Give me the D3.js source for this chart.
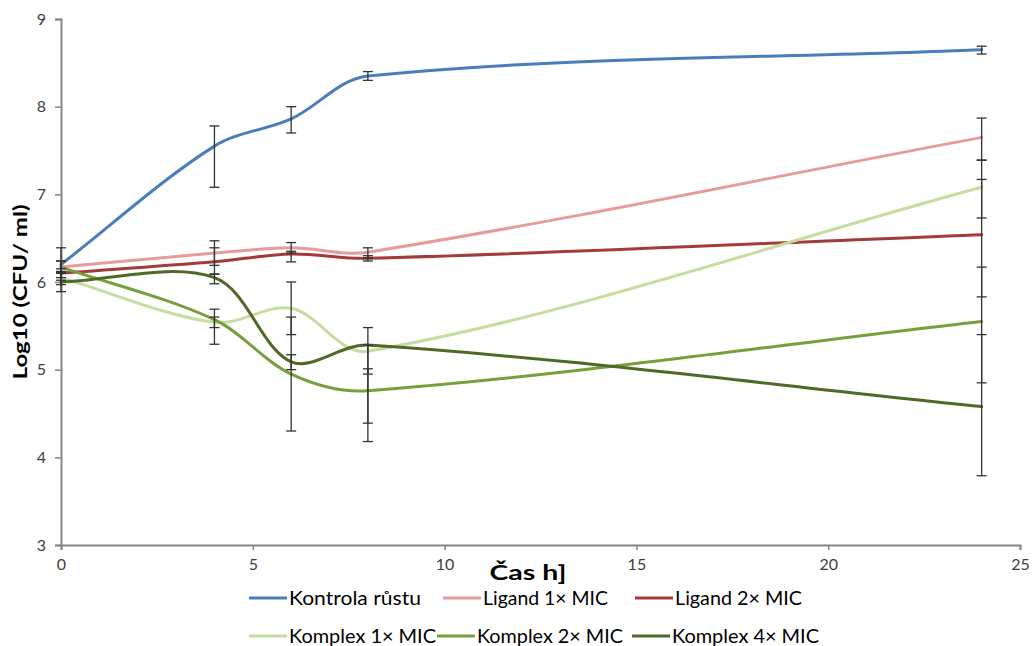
<!DOCTYPE html>
<html><head><meta charset="utf-8">
<script src="https://cdn.jsdelivr.net/npm/d3@7"></script>
<style>
body{margin:0;background:#fff;}
svg text{font-family:Lato,"Liberation Sans",sans-serif;}
</style></head>
<body><svg id="c" width="1032" height="646"></svg>
<script>
const times = [0, 4, 6, 8, 24];
const seriesNames = ["Kontrola růstu","Ligand 1× MIC","Ligand 2× MIC","Komplex 1× MIC","Komplex 2× MIC","Komplex 4× MIC"];
const seriesColors = ["#4a7ebb","#e59c9b","#a33b3d","#c6dd9f","#77a03c","#4f6a27"];
const kontrola = [6.20, 7.55, 7.86, 8.35, 8.65];
const ligand1  = [6.17, 6.33, 6.39, 6.34, 7.65];
const ligand2  = [6.10, 6.23, 6.32, 6.27, 6.54];
const komplex1 = [6.05, 5.54, 5.70, 5.21, 7.08];
const komplex2 = [6.17, 5.57, 4.95, 4.76, 5.55];
const komplex4 = [6.00, 6.05, 5.09, 5.28, 4.58];
// error bars [low, high]
const errKontrola = [[6.02,6.39],[7.08,7.78],[7.70,8.00],[8.30,8.40],[8.60,8.69]];
const errLigand1  = [[6.10,6.24],[6.19,6.47],[6.33,6.45],[6.27,6.39],[7.39,7.87]];
const errLigand2  = [[6.05,6.15],[6.09,6.39],[6.23,6.35],[6.24,6.30],[5.83,7.17]];
const errKomplex1 = [[5.97,6.12],[5.48,5.60],[5.40,6.00],[4.95,5.48],[6.73,7.39]];
const errKomplex2 = [[6.10,6.24],[5.29,5.69],[4.30,5.60],[4.39,5.01],[4.85,6.17]];
const errKomplex4 = [[5.89,6.11],[5.98,6.09],[5.00,5.17],[4.18,5.28],[3.79,5.40]];
const xTicks = [0,5,10,15,20,25];
const yTicks = [3,4,5,6,7,8,9];

const values = [kontrola, ligand1, ligand2, komplex1, komplex2, komplex4];
const errs = [errKontrola, errLigand1, errLigand2, errKomplex1, errKomplex2, errKomplex4];

const svg = d3.select("#c");
const x = d3.scaleLinear().domain([0,25]).range([61,1020]);
const y = d3.scaleLinear().domain([3,9]).range([545,19]);
const axisColor = "#868686";

function fitText(sel, w){
  const n = sel.node();
  const cur = n.getComputedTextLength();
  if (w && Math.abs(cur - w) > 1) sel.attr("textLength", w).attr("lengthAdjust","spacingAndGlyphs");
  return sel;
}

// axes
const gy = svg.append("g").attr("transform","translate(61,0)")
  .call(d3.axisLeft(y).tickValues(yTicks).tickSize(6).tickPadding(9).tickFormat(d3.format("d")));
const gx = svg.append("g").attr("transform","translate(0,545)")
  .call(d3.axisBottom(x).tickValues(xTicks).tickSize(5).tickPadding(9).tickFormat(d3.format("d")));
[gy,gx].forEach(g=>{
  g.select(".domain").attr("stroke",axisColor).attr("stroke-width",2);
  g.selectAll(".tick line").attr("stroke",axisColor).attr("stroke-width",1.5);
  g.selectAll(".tick text").attr("fill","#404040").style("font-size","16px");
});

// smoothed line (Bezier, chord-weighted Catmull-Rom tangents)
function smoothPath(pts){
  const p = d3.path();
  const n = pts.length;
  const dist = (a,b)=>Math.hypot(b[0]-a[0], b[1]-a[1]);
  p.moveTo(pts[0][0], pts[0][1]);
  for (let i=0;i<n-1;i++){
    const P0 = pts[Math.max(i-1,0)], P1 = pts[i], P2 = pts[i+1], P3 = pts[Math.min(i+2,n-1)];
    const dPrev = dist(P0,P1), dCur = dist(P1,P2), dNext = dist(P2,P3);
    const w1 = dCur/((dPrev+dCur)||1)/3;
    const w2 = dCur/((dCur+dNext)||1)/3;
    const c1 = [P1[0] + (P2[0]-P0[0])*w1, P1[1] + (P2[1]-P0[1])*w1];
    const c2 = [P2[0] - (P3[0]-P1[0])*w2, P2[1] - (P3[1]-P1[1])*w2];
    p.bezierCurveTo(c1[0],c1[1],c2[0],c2[1],P2[0],P2[1]);
  }
  return p.toString();
}
values.forEach((v,si)=>{
  const pts = v.map((d,i)=>[x(times[i]), y(d)]);
  svg.append("path").attr("d",smoothPath(pts)).attr("fill","none")
    .attr("stroke",seriesColors[si]).attr("stroke-width",3).attr("stroke-linecap","round");
});

// error bars
errs.forEach((e,si)=>{
  e.forEach((r,i)=>{
    const cx = x(times[i]);
    const g = svg.append("g").attr("stroke","#333").attr("stroke-width",1.3);
    g.append("line").attr("x1",cx).attr("x2",cx).attr("y1",y(r[0])).attr("y2",y(r[1]));
    [r[0],r[1]].forEach(v=>g.append("line").attr("x1",cx-5).attr("x2",cx+5).attr("y1",y(v)).attr("y2",y(v)));
  });
});

// axis titles
fitText(svg.append("text").attr("x",528).attr("y",580).attr("text-anchor","middle")
  .style("font-size","20px").style("font-weight","bold").attr("fill","#000").text("Čas h]"), 77);
fitText(svg.append("text").attr("transform","translate(27,292) rotate(-90)").attr("text-anchor","middle")
  .style("font-size","19px").style("font-weight","bold").attr("fill","#000").text("Log10 (CFU/ ml)"), 175);

// legend
const legendPos = [[249,598],[443,598],[635,598],[249,636],[437,636],[632,636]];
const legendTextW = [132,125,127,147,146,147];
seriesNames.forEach((n,i)=>{
  const [lx,ly] = legendPos[i];
  svg.append("line").attr("x1",lx).attr("x2",lx+38).attr("y1",ly).attr("y2",ly)
    .attr("stroke",seriesColors[i]).attr("stroke-width",3);
  fitText(svg.append("text").attr("x",lx+40).attr("y",ly+7).style("font-size","19px").attr("fill","#000").text(n), legendTextW[i]);
});
</script></body></html>
